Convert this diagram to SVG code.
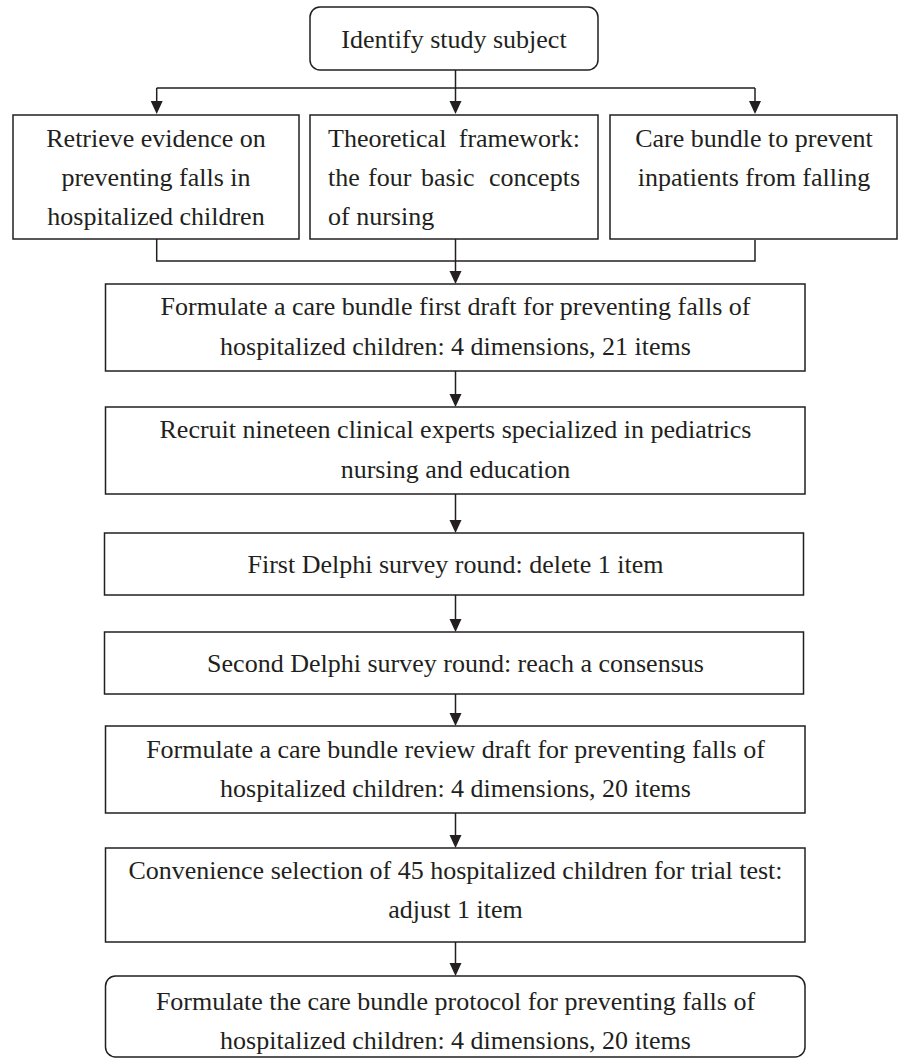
<svg xmlns="http://www.w3.org/2000/svg" width="899" height="1059" viewBox="0 0 899 1059">
<style>
.box{fill:#fff;stroke:#231f20;stroke-width:1.5}
.lbl{font-family:"Liberation Serif","Times New Roman",serif;font-size:26px;fill:#231f20}
.c{text-anchor:middle}
.con{fill:none;stroke:#231f20;stroke-width:1.5}
</style>
<defs>
<marker id="ah" markerUnits="userSpaceOnUse" markerWidth="12" markerHeight="13" viewBox="0 0 12 13" refX="6" refY="13" orient="auto-start-reverse">
<path d="M0,0 L12,0 L6,13 Z" fill="#231f20" transform="rotate(0)"/>
</marker>
</defs>
<rect width="899" height="1059" fill="#fff"/>
<g id="connectors">
<path class="con" d="M455.5,70 V88 M156.7,88 H755"/>
<path class="con" d="M156.7,88 V102"/>
<polygon points="150.7,101 162.7,101 156.7,114" fill="#231f20"/>
<path class="con" d="M455.5,88 V102"/>
<polygon points="449.5,101 461.5,101 455.5,114" fill="#231f20"/>
<path class="con" d="M755,88 V102"/>
<polygon points="749,101 761,101 755,114" fill="#231f20"/>
<path class="con" d="M156.7,239 V261 H755 V240 M455.5,239 V272"/>
<polygon points="449.5,271 461.5,271 455.5,284" fill="#231f20"/>
<path class="con" d="M455.5,371 V395"/>
<polygon points="449.5,394 461.5,394 455.5,407" fill="#231f20"/>
<path class="con" d="M455.5,494 V521"/>
<polygon points="449.5,520 461.5,520 455.5,533" fill="#231f20"/>
<path class="con" d="M455.5,595 V620"/>
<polygon points="449.5,619 461.5,619 455.5,632" fill="#231f20"/>
<path class="con" d="M455.5,694 V714"/>
<polygon points="449.5,713 461.5,713 455.5,726" fill="#231f20"/>
<path class="con" d="M455.5,813 V836"/>
<polygon points="449.5,835 461.5,835 455.5,848" fill="#231f20"/>
<path class="con" d="M455.5,942 V964"/>
<polygon points="449.5,963 461.5,963 455.5,976" fill="#231f20"/>
</g>
<g id="n_identify">
<rect class="box" x="310" y="7" width="288" height="63" rx="10"/>
<text class="lbl c" x="454" y="48">Identify study subject</text>
</g>
<g id="n_retrieve">
<rect class="box" x="13" y="115" width="286" height="124"/>
<text class="lbl c" x="156" y="146.5">Retrieve evidence on</text>
<text class="lbl c" x="156" y="185.5">preventing falls in</text>
<text class="lbl c" x="156" y="224.5">hospitalized children</text>
</g>
<g id="n_theory">
<rect class="box" x="310" y="115" width="288" height="124"/>
<text class="lbl" x="328" y="146.5">Theoretical <tspan x="580" text-anchor="end">framework:</tspan></text>
<text class="lbl" y="185.5"><tspan x="328">the</tspan><tspan x="368">four</tspan><tspan x="421">basic</tspan><tspan x="580" text-anchor="end">concepts</tspan></text>
<text class="lbl" x="328" y="224.5">of nursing</text>
</g>
<g id="n_carebundle">
<rect class="box" x="610" y="115" width="287" height="124"/>
<text class="lbl c" x="754" y="146.5">Care bundle to prevent</text>
<text class="lbl c" x="754" y="185.5">inpatients from falling</text>
</g>
<g id="n_firstdraft">
<rect class="box" x="105.5" y="284" width="699.5" height="87"/>
<text class="lbl c" x="455.5" y="315">Formulate a care bundle first draft for preventing falls of</text>
<text class="lbl c" x="455.5" y="355">hospitalized children: 4 dimensions, 21 items</text>
</g>
<g id="n_recruit">
<rect class="box" x="105.5" y="407" width="699.5" height="87"/>
<text class="lbl c" x="455.5" y="438">Recruit nineteen clinical experts specialized in pediatrics</text>
<text class="lbl c" x="455.5" y="478">nursing and education</text>
</g>
<g id="n_delphi1">
<rect class="box" x="104.5" y="533" width="699" height="62"/>
<text class="lbl c" x="455.5" y="572.5">First Delphi survey round: delete 1 item</text>
</g>
<g id="n_delphi2">
<rect class="box" x="104.5" y="632" width="699" height="62"/>
<text class="lbl c" x="455.5" y="671.5">Second Delphi survey round: reach a consensus</text>
</g>
<g id="n_review">
<rect class="box" x="105.5" y="726" width="699.5" height="87"/>
<text class="lbl c" x="455.5" y="758">Formulate a care bundle review draft for preventing falls of</text>
<text class="lbl c" x="455.5" y="797">hospitalized children: 4 dimensions, 20 items</text>
</g>
<g id="n_trial">
<rect class="box" x="105.5" y="848" width="699.5" height="94"/>
<text class="lbl c" x="455.5" y="879">Convenience selection of 45 hospitalized children for trial test:</text>
<text class="lbl c" x="455.5" y="918">adjust 1 item</text>
</g>
<g id="n_protocol">
<rect class="box" x="105.5" y="976" width="699.5" height="81" rx="10"/>
<text class="lbl c" x="455.5" y="1010">Formulate the care bundle protocol for preventing falls of</text>
<text class="lbl c" x="455.5" y="1049">hospitalized children: 4 dimensions, 20 items</text>
</g>
</svg>
